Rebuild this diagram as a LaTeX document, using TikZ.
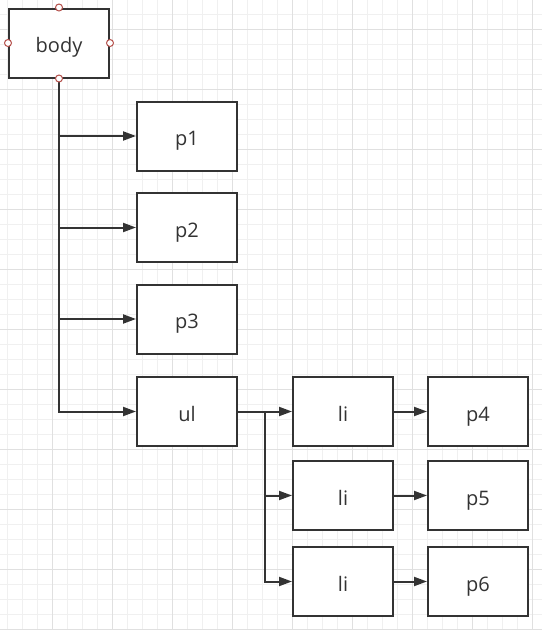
\documentclass[tikz,border=0pt]{standalone}
\usepackage{fontspec}
\setmainfont{Open Sans}
\usetikzlibrary{arrows.meta}
\definecolor{ink}{HTML}{333333}
\definecolor{gridminor}{HTML}{F0F0F0}
\definecolor{gridmajor}{HTML}{E0E0E0}
\definecolor{portred}{HTML}{B5504B}
\tikzset{
  box/.style={draw=ink, line width=2pt, fill=white, minimum width=100pt,
    minimum height=69pt, inner sep=0pt, text=ink,
    text height=19pt, text depth=0pt,
    font=\fontsize{20}{24}\selectfont},
  link/.style={draw=ink, line width=2pt,
    -{Triangle[length=13pt,width=9pt]}},
  port/.style={circle, draw=portred, fill=white, line width=1pt,
    minimum size=7pt, inner sep=0pt},
}
\begin{document}
\begin{tikzpicture}[x=1pt,y=-1pt]
  \useasboundingbox (0,0) rectangle (542,630);
  \fill[white] (0,0) rectangle (542,630);
  % background grid
  \foreach \gx in {7.5,22.5,...,540}
    \draw[gridminor, line width=1pt] (\gx,0) -- (\gx,630);
  \foreach \gy in {14.5,29.5,...,630}
    \draw[gridminor, line width=1pt] (0,\gy) -- (542,\gy);
  \foreach \gx in {52.5,112.5,...,540}
    \draw[gridmajor, line width=1pt] (\gx,0) -- (\gx,630);
  \foreach \gy in {29.5,89.5,...,630}
    \draw[gridmajor, line width=1pt] (0,\gy) -- (542,\gy);

  % element boxes
  \node[box] (body) at (59,43) {body};
  \node[box] (p1) at (187,136) {p1};
  \node[box] (p2) at (187,227.5) {p2};
  \node[box] (p3) at (187,319) {p3};
  \node[box] (ul) at (187,411.5) {ul};
  \node[box] (li1) at (343,411.5) {li};
  \node[box] (li2) at (343,495.5) {li};
  \node[box] (li3) at (343,581.5) {li};
  \node[box] (p4) at (478,411.5) {p4};
  \node[box] (p5) at (478,495.5) {p5};
  \node[box] (p6) at (478,581.5) {p6};

  % children of body
  \draw[link] (body.south) |- (p1.west);
  \draw[link] (body.south) |- (p2.west);
  \draw[link] (body.south) |- (p3.west);
  \draw[link] (body.south) |- (ul.west);

  % children of ul
  \coordinate (split) at (265,411.5);
  \draw[link] (ul.east) -- (li1.west);
  \draw[link] (split) |- (li2.west);
  \draw[link] (split) |- (li3.west);

  % li contents
  \draw[link] (li1.east) -- (p4.west);
  \draw[link] (li2.east) -- (p5.west);
  \draw[link] (li3.east) -- (p6.west);

  % connection points of the selected box
  \node[port] (bn) at (body.north) {};
  \node[port] (bs) at (body.south) {};
  \node[port] (bw) at (body.west) {};
  \node[port] (be) at (body.east) {};
\end{tikzpicture}
\end{document}
